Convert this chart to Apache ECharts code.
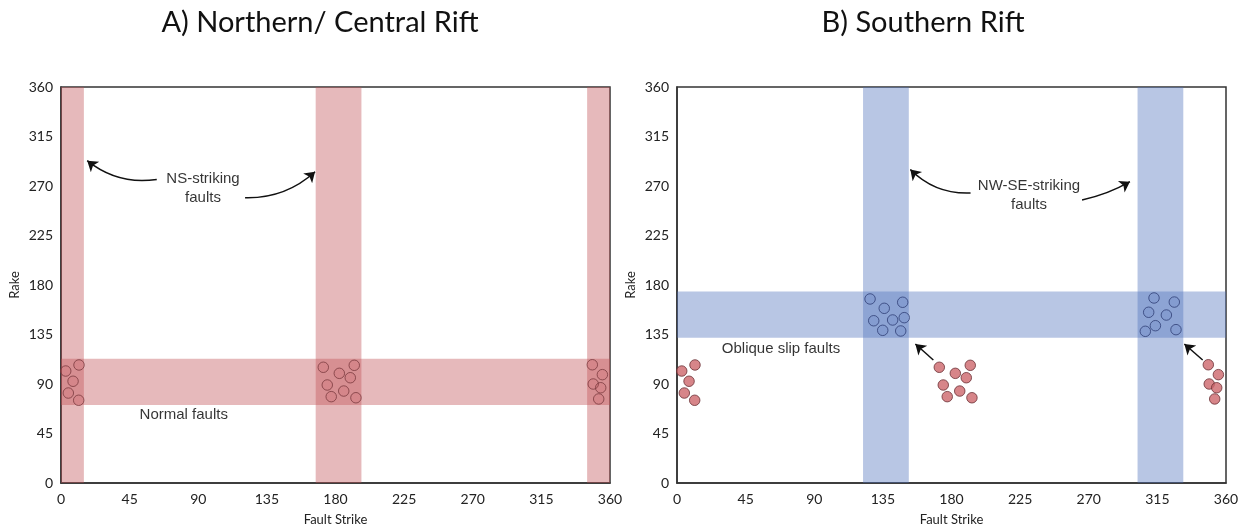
<!DOCTYPE html>
<html><head><meta charset="utf-8">
<script src="https://cdn.jsdelivr.net/npm/echarts@6/dist/echarts.min.js"></script>
<style>html,body{margin:0;padding:0;background:#fff}#c{width:1250px;height:531px}</style>
</head><body><div id="c"></div>
<script>
// ---- data ----
const panelTitles = ['A) Northern/ Central Rift', 'B) Southern Rift'];
const xAxisName = 'Fault Strike';
const yAxisName = 'Rake';
// fault strike bands (deg)
const nsStrikeBandsA = [[0, 15], [167, 197], [345, 360]];
const nwseStrikeBandsB = [[122, 152], [302, 332]];
// rake bands (deg)
const normalRakeBandA = [71, 113];
const obliqueRakeBandB = [132, 174];
// normal fault measurements [strike, rake]
const normalFaults = [
  [3.1, 101.8], [11.8, 107.3], [7.9, 92.5], [4.8, 81.8], [11.6, 75.2],
  [172, 105.2], [192.3, 107], [182.5, 99.7], [189.7, 95.7], [174.6, 89.1], [185.4, 83.6], [177.2, 78.5], [193.4, 77.5],
  [348.4, 107.5], [355, 98.5], [349, 90], [353.9, 86.6], [352.6, 76.4]
];
// oblique slip fault measurements [strike, rake]
const obliqueFaults = [
  [126.6, 167.3], [148, 164.3], [135.9, 158.8], [129, 147.5], [141.4, 148.2], [149, 150.3], [134.9, 138.8], [146.7, 138.2],
  [312.8, 168.2], [326.1, 164.5], [309.3, 155.2], [320.9, 152.7], [313.7, 143], [307.1, 137.9], [327.2, 139.4]
];
// annotation arrows [[tailStrike, tailRake], [headStrike, headRake], curveness]
const arrowsA = [[[62.8, 276], [17.2, 293], 0.22], [[120.7, 259.4], [166.6, 283], -0.2]];
const arrowsB = [[[192.5, 263.6], [153, 285], 0.22], [[265.6, 257.3], [297, 273.9], -0.08],
                 [[168.1, 111.8], [156.3, 126.4], 0], [[344.7, 111.8], [332.7, 126.4], 0]];
// annotation texts [strike, rake, text]
const labelsA = [[93.1, 267.7, 'NS-striking\nfaults'], [80.5, 61.8, 'Normal faults']];
const labelsB = [[230.8, 261.4, 'NW-SE-striking\nfaults'], [68.2, 121.8, 'Oblique slip faults']];

// ---- chart ----
const chart = echarts.init(document.getElementById('c'));
const RED = 'rgba(192,80,85,0.4)';
const BLUE = 'rgba(78,113,187,0.4)';
const tickFont = {fontFamily: 'Lato, "Open Sans", sans-serif', fontSize: 14, color: '#222'};

function vBands(bands, color) {
  return bands.map(b => [{xAxis: b[0], yAxis: 0, itemStyle: {color}}, {xAxis: b[1], yAxis: 360}]);
}
function hBand(b, color) {
  return [{xAxis: 0, yAxis: b[0], itemStyle: {color}}, {xAxis: 360, yAxis: b[1]}];
}
function xAx(i) {
  return {gridIndex: i, type: 'value', min: 0, max: 360, interval: 45,
    name: xAxisName, nameLocation: 'middle', nameGap: 30,
    nameTextStyle: {fontFamily: 'Lato, sans-serif', fontSize: 13, color: '#222'},
    axisLine: {lineStyle: {color: '#333', width: 1.5}}, axisTick: {show: false},
    splitLine: {show: false}, axisLabel: Object.assign({margin: 9}, tickFont)};
}
function yAx(i) {
  return {gridIndex: i, type: 'value', min: 0, max: 360, interval: 45,
    name: yAxisName, nameLocation: 'middle', nameGap: 40,
    nameTextStyle: {fontFamily: 'Lato, sans-serif', fontSize: 13, color: '#222'},
    axisLine: {lineStyle: {color: '#333', width: 1.5}}, axisTick: {show: false},
    splitLine: {show: false}, axisLabel: Object.assign({margin: 8}, tickFont)};
}
function arrowSeries(arr, idx) {
  return arr.map(a => ({
    type: 'lines', coordinateSystem: 'cartesian2d', xAxisIndex: idx, yAxisIndex: idx, z: 5,
    symbol: ['none', 'arrow'], symbolSize: 10,
    lineStyle: {color: '#111', width: 1.5, curveness: a[2], opacity: 1},
    data: [{coords: [a[0], a[1]]}]
  }));
}
function textSeries(arr, idx) {
  const lbl = {show: true, position: 'inside', fontFamily: '"Liberation Sans", Arial, sans-serif', fontSize: 15,
      color: '#000', textBorderWidth: 0, lineHeight: 19, align: 'center'};
  return {type: 'scatter', xAxisIndex: idx, yAxisIndex: idx, symbolSize: 0, z: 6, silent: true,
    itemStyle: {color: 'transparent'},
    data: arr.map(t => ({value: [t[0], t[1]], label: Object.assign({formatter: t[2]}, lbl)})),
    label: lbl};
}

chart.setOption({
  animation: false,
  title: [
    {text: panelTitles[0], left: 315, top: 3, textAlign: 'center',
      textStyle: {fontFamily: 'Lato, sans-serif', fontWeight: 'normal', fontSize: 29, color: '#111'}},
    {text: panelTitles[1], left: 918, top: 3, textAlign: 'center',
      textStyle: {fontFamily: 'Lato, sans-serif', fontWeight: 'normal', fontSize: 29, color: '#111'}}
  ],
  grid: [
    {left: 61, top: 87, width: 549, height: 396, show: true, borderColor: '#333', borderWidth: 1.5, backgroundColor: 'transparent'},
    {left: 677, top: 87, width: 549, height: 396, show: true, borderColor: '#333', borderWidth: 1.5, backgroundColor: 'transparent'}
  ],
  xAxis: [xAx(0), xAx(1)],
  yAxis: [yAx(0), yAx(1)],
  series: [
    {type: 'scatter', xAxisIndex: 0, yAxisIndex: 0, z: 3, symbolSize: 10.5,
      itemStyle: {color: 'rgba(200,90,95,0.2)', borderColor: '#7a3a3e', borderWidth: 1},
      data: normalFaults,
      markArea: {silent: true, data: vBands(nsStrikeBandsA, RED).concat([hBand(normalRakeBandA, RED)])}},
    {type: 'scatter', xAxisIndex: 1, yAxisIndex: 1, z: 3, symbolSize: 10.5,
      itemStyle: {color: '#cd666c', borderColor: '#6a3035', borderWidth: 1},
      data: normalFaults},
    {type: 'scatter', xAxisIndex: 1, yAxisIndex: 1, z: 3, symbolSize: 10.5,
      itemStyle: {color: 'rgba(78,113,187,0.2)', borderColor: '#2f3f75', borderWidth: 1},
      data: obliqueFaults,
      markArea: {silent: true, data: vBands(nwseStrikeBandsB, BLUE).concat([hBand(obliqueRakeBandB, BLUE)])}},
    textSeries(labelsA, 0),
    textSeries(labelsB, 1)
  ].concat(arrowSeries(arrowsA, 0), arrowSeries(arrowsB, 1))
});
</script>
</body></html>
